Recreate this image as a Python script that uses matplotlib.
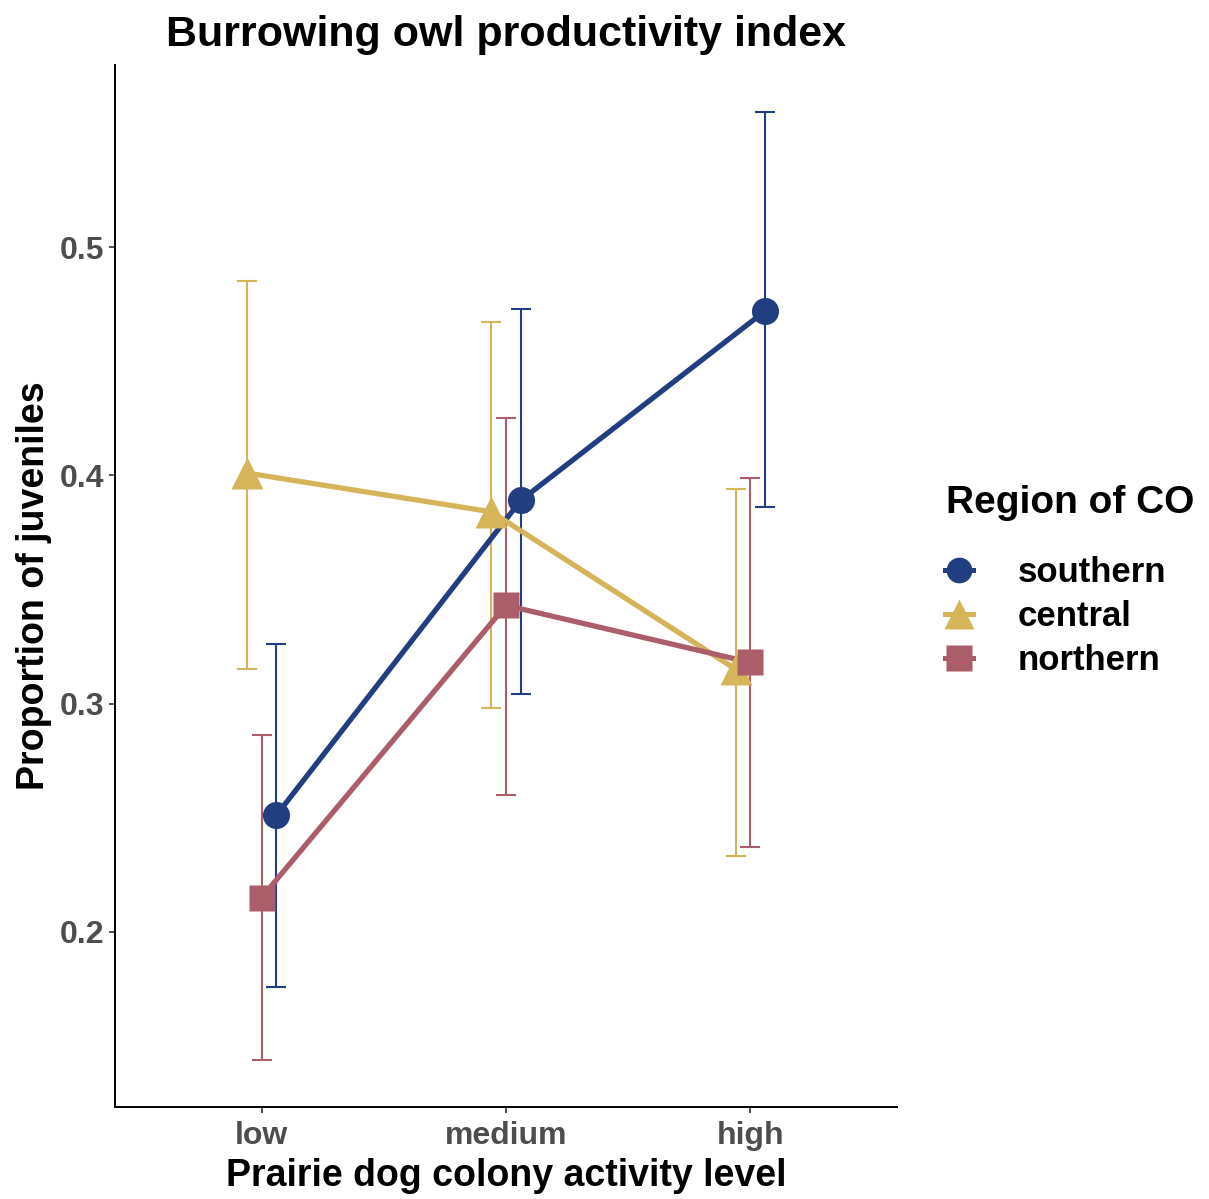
import numpy as np
import matplotlib
matplotlib.use("Agg")
import matplotlib.pyplot as plt
from matplotlib.lines import Line2D

plt.rcParams['font.family'] = ['Liberation Sans', 'DejaVu Sans']

# data
levels = ['low', 'medium', 'high']
regions = ['southern', 'central', 'northern']

southern_mean = [0.251, 0.389, 0.472]
southern_lo = [0.176, 0.304, 0.386]
southern_hi = [0.326, 0.473, 0.559]

central_mean = [0.401, 0.384, 0.315]
central_lo = [0.315, 0.298, 0.233]
central_hi = [0.485, 0.467, 0.394]

northern_mean = [0.215, 0.343, 0.318]
northern_lo = [0.144, 0.260, 0.237]
northern_hi = [0.286, 0.425, 0.399]

colors = {'southern': '#213f80', 'central': '#d5b45a', 'northern': '#ab5d69'}
markers = {'southern': 'o', 'central': '^', 'northern': 's'}
msizes = {'southern': 19.5, 'central': 23, 'northern': 19}
offsets = {'southern': 0.06, 'central': -0.06, 'northern': 0.0}

series = {
    'southern': (southern_mean, southern_lo, southern_hi),
    'central': (central_mean, central_lo, central_hi),
    'northern': (northern_mean, northern_lo, northern_hi),
}

fig = plt.figure(figsize=(12.09, 11.99), dpi=100)
ax = fig.add_axes([0.0951, 0.0767, 0.6469, 0.8691])

x = np.arange(1, len(levels) + 1)
for r in regions:
    m, lo, hi = series[r]
    m = np.array(m)
    xs = x + offsets[r]
    yerr = [m - np.array(lo), np.array(hi) - m]
    ax.errorbar(xs, m, yerr=yerr, fmt='none', ecolor=colors[r],
                elinewidth=1.5, capsize=7, capthick=1.5, zorder=2)
for r in regions:
    m = series[r][0]
    xs = x + offsets[r]
    ax.plot(xs, m, color=colors[r], lw=3.8, zorder=3, solid_capstyle='butt')
    ax.plot(xs, m, ls='none', marker=markers[r], ms=msizes[r],
            color=colors[r], mec='none', zorder=4)

ax.set_xlim(0.4, 3.6)
ax.set_ylim(0.1232, 0.5798)
ax.set_xticks(x)
ax.set_xticklabels(levels)
ax.set_yticks([0.2, 0.3, 0.4, 0.5])
ax.set_yticklabels(['0.2', '0.3', '0.4', '0.5'])

for s in ['top', 'right']:
    ax.spines[s].set_visible(False)
for s in ['left', 'bottom']:
    ax.spines[s].set_linewidth(1.4)
    ax.spines[s].set_color('black')
ax.tick_params(length=4, width=1.2, color='#333333', labelcolor='#4d4d4d',
               labelsize=23)
ax.tick_params(axis='x', pad=6)
ax.tick_params(axis='y', pad=4)
for lab in ax.get_xticklabels() + ax.get_yticklabels():
    lab.set_fontweight('bold')

ax.set_xlabel('Prairie dog colony activity level', fontsize=27,
              fontweight='bold', labelpad=5)
ax.set_ylabel('Proportion of juveniles', fontsize=27,
              fontweight='bold', labelpad=5)
ax.set_title('Burrowing owl productivity index', fontsize=31,
             fontweight='bold', pad=14)

# legend title drawn separately to get the ggplot-like gap
fig.text(946 / 1209, 1 - 503 / 1199, 'Region of CO', fontsize=28,
         fontweight='bold', ha='left', va='center')
handles = [Line2D([], [], color=colors[r], lw=3.6, marker=markers[r],
                  ms=msizes[r] * 0.95, mec='none') for r in regions]
leg = fig.legend(handles, regions, loc='upper left',
                 bbox_to_anchor=(945 / 1209, 1 - 556 / 1199), frameon=False,
                 handlelength=0.8, handletextpad=1.3,
                 labelspacing=0.32, borderaxespad=0, borderpad=0,
                 prop={'size': 25, 'weight': 'bold'})

fig.savefig('out.png', dpi=100, facecolor='white')
